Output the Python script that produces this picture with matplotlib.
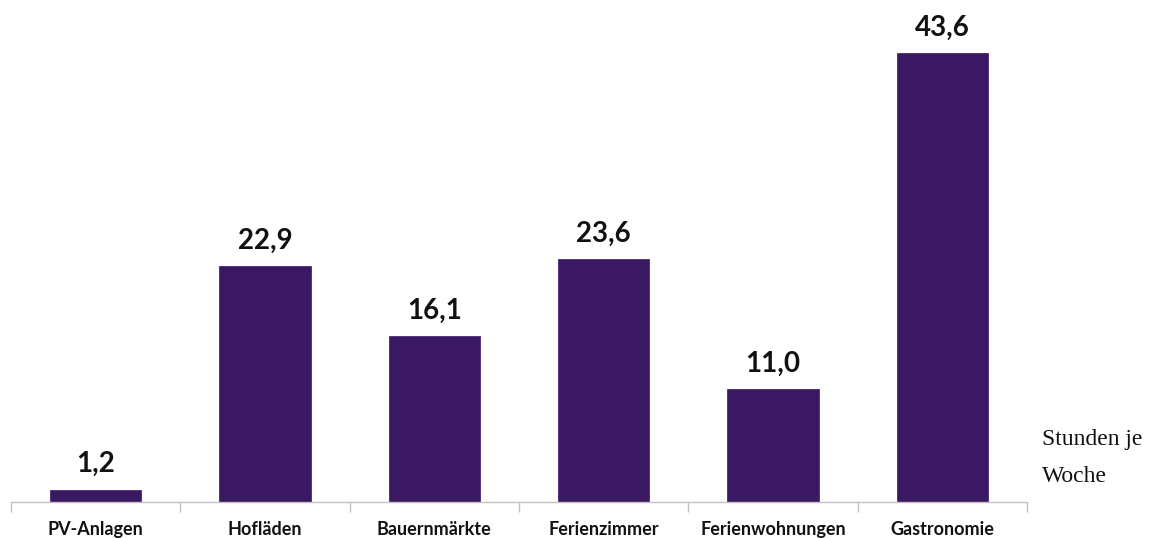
import numpy as np
import matplotlib.pyplot as plt

categories = ['PV-Anlagen', 'Hofläden', 'Bauernmärkte', 'Ferienzimmer',
              'Ferienwohnungen', 'Gastronomie']
values = [1.2, 22.9, 16.1, 23.6, 11.0, 43.6]
unit_lines = ['Stunden je', 'Woche']

fig = plt.figure(figsize=(11.5, 5.38), dpi=100)
ax = fig.add_axes([11/1150, 1 - 502/538, (1027 - 11)/1150, 502/538])

x = np.arange(len(categories))
bars = ax.bar(x, values, width=0.54, color='#3a1862', edgecolor='#4a2a7a', linewidth=0.6)

for xi, v in zip(x, values):
    ax.text(xi, v + 1.2, f'{v:.1f}'.replace('.', ','), ha='center', va='bottom',
            fontsize=20, fontweight='bold', family='Lato', color='#111111')

ax.set_xlim(-0.5, len(categories) - 0.5)
ax.set_ylim(0, 48.75)

for s in ['top', 'left', 'right']:
    ax.spines[s].set_visible(False)
ax.spines['bottom'].set_color('#c8c0c0')
ax.spines['bottom'].set_linewidth(1)

ax.set_yticks([])
ax.set_xticks(x)
ax.set_xticklabels(categories, fontsize=13, fontweight='bold', family='Lato', color='#111111')
ax.tick_params(axis='x', which='major', length=0, pad=13.5)
ax.set_xticks(np.arange(-0.5, len(categories)), minor=True)
ax.tick_params(axis='x', which='minor', length=7, color='#c8c0c0', width=1)

fig.text(1042/1150, 1 - 440/538, unit_lines[0], family='Liberation Serif', fontsize=17,
         va='center', ha='left', color='#111111')
fig.text(1042/1150, 1 - 477/538, unit_lines[1], family='Liberation Serif', fontsize=17,
         va='center', ha='left', color='#111111')

fig.savefig('out.png', dpi=100)
